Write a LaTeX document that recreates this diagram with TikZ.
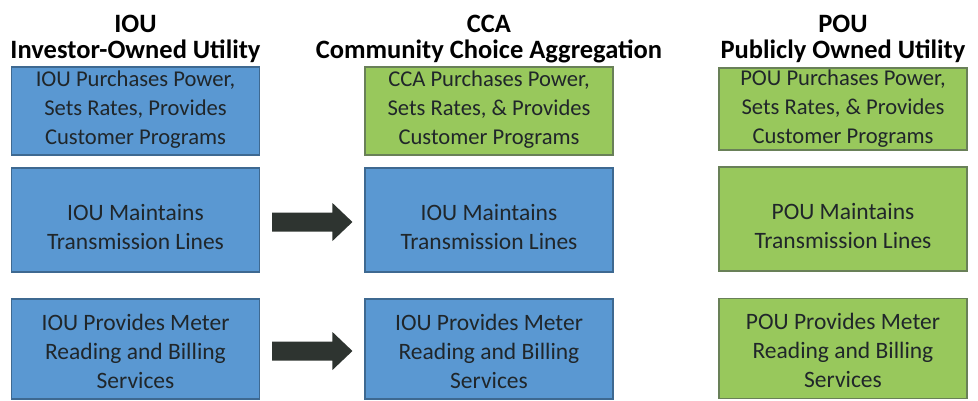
\documentclass[tikz,border=0pt]{standalone}
\usepackage{fontspec}
\setmainfont{Carlito}
\usetikzlibrary{calc}
\definecolor{boxblue}{RGB}{90,152,210}
\definecolor{boxgreen}{RGB}{152,200,92}
\definecolor{edgeblue}{RGB}{62,105,145}
\definecolor{edgegreen}{RGB}{105,128,88}
\definecolor{inkdark}{RGB}{32,38,42}
\definecolor{arrowdark}{RGB}{46,52,48}
\begin{document}
\begin{tikzpicture}[x=1pt,y=-1pt,
  header/.style={font=\fontsize{26.5}{27}\selectfont\bfseries, text=black, inner sep=0pt, anchor=base},
  cell/.style={draw, line width=1.1pt, inner sep=0pt, minimum width=248pt},
  bluecell/.style={cell, fill=boxblue, draw=edgeblue},
  greencell/.style={cell, fill=boxgreen, draw=edgegreen},
  celltext/.style={align=center, text=inkdark, inner sep=0pt, font=\fontsize{23.5}{29}\selectfont},
  toptext/.style={celltext, font=\fontsize{22.6}{29}\selectfont},
  blockarrow/.style={fill=arrowdark}
]
\useasboundingbox (0,0) rectangle (978,400);

% column headings
\node[header] (hl1) at (135.5,32) {IOU};
\node[header] (hl2) at (135.5,58) {Investor-Owned Utility};
\node[header] (hc1) at (489,32) {CCA};
\node[header] (hc2) at (489,58) {Community Choice Aggregation};
\node[header] (hr1) at (843,32) {POU};
\node[header] (hr2) at (843,58) {Publicly Owned Utility};

% IOU column
\node[bluecell, minimum height=88pt] (l1) at (135.5,111) {};
\node[bluecell, minimum height=104pt] (l2) at (135.5,220) {};
\node[bluecell, minimum height=100pt] (l3) at (135.5,349) {};

% CCA column
\node[greencell, minimum height=88pt] (c1) at (489,111) {};
\node[bluecell, minimum height=104pt] (c2) at (489,220) {};
\node[bluecell, minimum height=100pt] (c3) at (489,349) {};

% POU column
\node[greencell, minimum height=82pt] (r1) at (843,109) {};
\node[greencell, minimum height=104pt] (r2) at (843,219) {};
\node[greencell, minimum height=100pt] (r3) at (843,348.5) {};

% box captions
\node[toptext] (l1t) at ($(l1.center)+(0,-1)$) {IOU Purchases Power,\\Sets Rates, Provides\\Customer Programs};
\node[celltext] (l2t) at ($(l2.center)+(0,7)$) {IOU Maintains\\Transmission Lines};
\node[celltext] (l3t) at ($(l3.center)+(0,2)$) {IOU Provides Meter\\Reading and Billing\\Services};
\node[toptext] (c1t) at ($(c1.center)+(0,-1)$) {CCA Purchases Power,\\Sets Rates, \& Provides\\Customer Programs};
\node[celltext] (c2t) at ($(c2.center)+(0,7)$) {IOU Maintains\\Transmission Lines};
\node[celltext] (c3t) at ($(c3.center)+(0,2)$) {IOU Provides Meter\\Reading and Billing\\Services};
\node[toptext] (r1t) at ($(r1.center)+(0,0)$) {POU Purchases Power,\\Sets Rates, \& Provides\\Customer Programs};
\node[celltext] (r2t) at ($(r2.center)+(0,7)$) {POU Maintains\\Transmission Lines};
\node[celltext] (r3t) at ($(r3.center)+(0,2)$) {POU Provides Meter\\Reading and Billing\\Services};

% block arrows between the IOU and CCA columns
\foreach \a/\b in {l2/c2, l3/c3} {
  \coordinate (s) at ($(\a.east)+(12,2)$);
  \coordinate (e) at ($(\b.west)+(-12,2)$);
  \fill[blockarrow] ($(s)+(0,-9.5)$) -- ($(e)+(-20,-9.5)$) -- ($(e)+(-20,-19)$) -- (e)
     -- ($(e)+(-20,19)$) -- ($(e)+(-20,9.5)$) -- ($(s)+(0,9.5)$) -- cycle;
}
\end{tikzpicture}
\end{document}
